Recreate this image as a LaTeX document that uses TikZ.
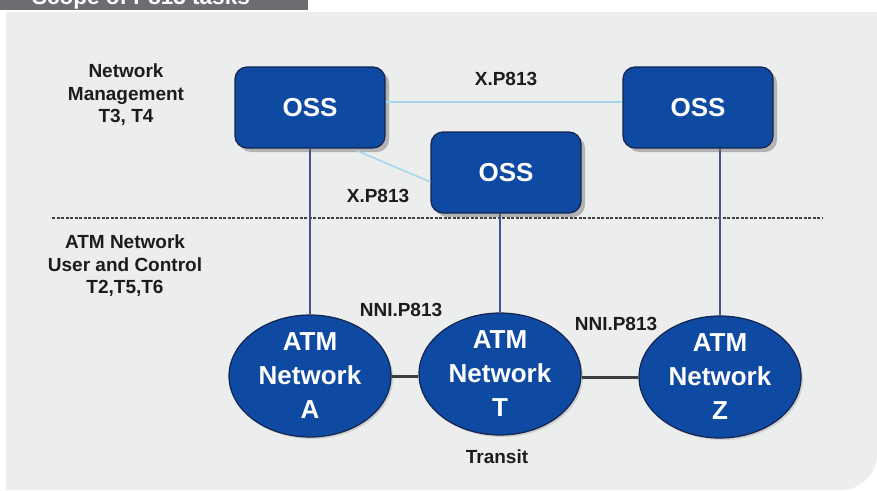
\documentclass[tikz,border=0pt]{standalone}
\usepackage{fontspec}
\setmainfont{Liberation Sans}
\usetikzlibrary{shapes.geometric,shadows,calc}

\definecolor{panelgray}{RGB}{236,237,237}
\definecolor{tabgray}{RGB}{108,109,112}
\definecolor{ossblue}{RGB}{14,74,162}
\definecolor{navyedge}{RGB}{20,36,78}
\definecolor{linkblue}{RGB}{168,214,238}
\definecolor{uplink}{RGB}{70,84,140}
\definecolor{nnigray}{RGB}{60,62,66}
\definecolor{labelgray}{RGB}{28,28,28}

\tikzset{
  ossbox/.style={rectangle, rounded corners=12pt, fill=ossblue, draw=navyedge,
    line width=1.2pt, minimum width=150pt, minimum height=81pt, inner sep=0pt,
    text=white, font=\fontsize{26}{30}\selectfont\bfseries,
    drop shadow={shadow xshift=4pt, shadow yshift=-4pt, fill=black!45, opacity=.6}},
  atmnet/.style={ellipse, fill=ossblue, draw=navyedge, line width=1.2pt,
    minimum width=162pt, minimum height=122pt, inner sep=0pt, align=center,
    text=white, font=\fontsize{26}{34}\selectfont\bfseries,
    drop shadow={shadow xshift=2pt, shadow yshift=-2pt, fill=black!30, opacity=.5}},
  lbl/.style={text=labelgray, font=\fontsize{19}{22}\selectfont\bfseries, inner sep=0pt},
  sidelbl/.style={lbl, align=center, font=\fontsize{19}{22.5}\selectfont\bfseries},
  xlink/.style={draw=linkblue, line width=1.6pt},
  vlink/.style={draw=uplink, line width=1.8pt},
  nnilink/.style={draw=nnigray, line width=3pt},
  layerline/.style={draw=black!75, line width=1.3pt, dash pattern=on 3pt off 1.5pt},
}

\begin{document}
\begin{tikzpicture}[x=1pt, y=-1pt]
\useasboundingbox (0,0) rectangle (877,490);

% header tab and panel
\fill[tabgray] (0,0) rectangle (308,10);
\begin{scope}
  \clip (0,0) rectangle (308,10);
  \node[anchor=base west, text=white, inner sep=0pt,
        font=\fontsize{22.5}{26}\selectfont\bfseries] (title) at (32,4) {Scope of P813 tasks};
\end{scope}
\fill[panelgray] (6,12) -- (877,12) [rounded corners=36pt] -- (877,490) [sharp corners] -- (6,490) -- cycle;

% layer separator
\coordinate (sepL) at (52,218);
\coordinate (sepR) at (822,218);
\draw[layerline] (sepL) -- (sepR);

% layer labels
\node[sidelbl] (mgmt) at (126,95) {Network\\Management\\T3, T4};
\node[sidelbl] (user) at (125,266) {ATM Network\\User and Control\\T2,T5,T6};

% management systems
\node[ossbox] (oss1) at (310,107.5) {OSS};
\node[ossbox] (oss2) at (506,172.5) {OSS};
\node[ossbox] (oss3) at (698,107.5) {OSS};

% ATM networks
\node[atmnet] (netA) at (310,376) {ATM\\Network\\A};
\node[atmnet] (netT) at (500,374) {ATM\\Network\\T};
\node[atmnet] (netZ) at (720,377) {ATM\\Network\\Z};

% X interface links between the OSSs
\draw[xlink] (oss1.east |- 0,102) -- (oss3.west |- 0,102);
\draw[xlink] ($(oss1.south east)+(-29,2)$) -- (oss2.west |- 0,182);

% management to network links
\draw[vlink] (oss1.south) -- (netA.north);
\draw[vlink] (oss2.south -| netT.north) -- (netT.north);
\draw[vlink] (oss3.south -| netZ.north) -- (netZ.north);

% NNI links
\draw[nnilink] (netA.east) -- (netA.east -| netT.west);
\draw[nnilink] (netZ.west -| netT.east) -- (netZ.west);

% interface labels
\node[lbl] (xp1) at (506,79) {X.P813};
\node[lbl] (xp2) at (378,196) {X.P813};
\node[lbl] (nni1) at (401,310) {NNI.P813};
\node[lbl] (nni2) at (616,324) {NNI.P813};
\node[lbl] (transit) at (497,457) {Transit};
\end{tikzpicture}
\end{document}
